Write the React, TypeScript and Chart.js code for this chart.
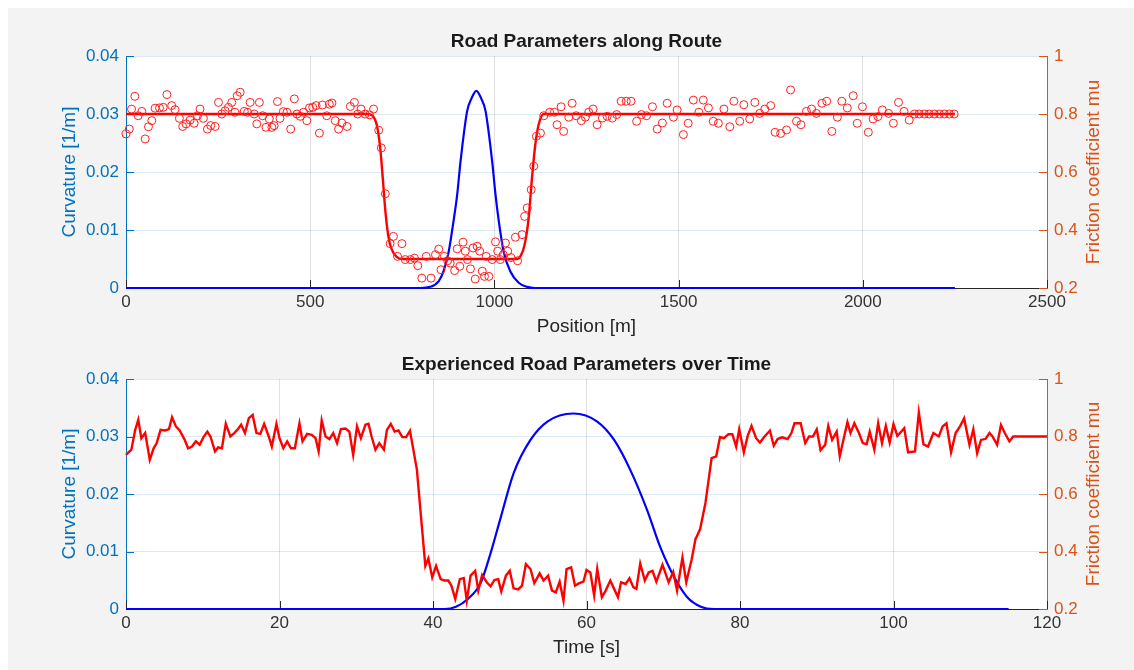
import { useEffect, useRef } from 'react';
import { Chart, registerables } from 'chart.js';

Chart.register(...registerables);

const FONT = '"Liberation Sans", Arial, Helvetica, sans-serif';
const AXIS_BLUE = '#0072bd';
const AXIS_ORANGE = '#d95319';
const AXIS_DARK = '#262626';

// ---- Road parameters along the route (position in m) ----
// Measured friction samples
const ROUTE_SAMPLE_POS = [
  0, 9, 15, 24, 33, 43, 52, 61, 70, 79, 91, 101, 111, 124, 133, 145, 154, 163, 174, 185,
  194, 201, 210, 221, 230, 242, 251, 260, 269, 278, 287, 296, 302, 310, 321, 330, 337, 348, 355, 362,
  371, 380, 389, 396, 402, 411, 418, 427, 437, 447, 457, 464, 473, 482, 491, 498, 507, 516, 525, 533,
  545, 552, 559, 568, 577, 586, 600, 609, 620, 629, 638, 649, 661, 672,
  686, 693, 704, 717, 726, 737, 749, 758, 772, 783, 792, 803, 815, 828, 840, 849, 855, 864, 873, 880,
  892, 899, 906, 915, 921, 927, 935, 942, 948, 953, 960, 967, 973, 978, 985, 994, 1003, 1009, 1016, 1024,
  1030, 1036, 1045, 1057, 1063, 1075, 1082, 1089, 1100, 1107, 1114, 1125,
  1134, 1150, 1163, 1170, 1181, 1188, 1202, 1211, 1222, 1236, 1247, 1256, 1268, 1279, 1293, 1306, 1320, 1332,
  1344, 1358, 1371, 1386, 1399, 1413, 1429, 1442, 1456, 1469, 1486, 1496, 1513, 1526, 1540, 1555, 1567, 1581,
  1594, 1608, 1623, 1639, 1650, 1666, 1677, 1693, 1707, 1720, 1734, 1750, 1762, 1777, 1793, 1804, 1820, 1832,
  1847, 1861, 1874, 1889, 1902, 1916, 1931, 1943, 1958, 1974, 1985, 1999, 2015, 2028, 2041, 2053, 2070, 2083,
  2097, 2112, 2126, 2140, 2153, 2167, 2180, 2194, 2208, 2221, 2235, 2248,
];
const ROUTE_SAMPLE_MU = [
  0.731, 0.748, 0.817, 0.861, 0.794, 0.809, 0.714, 0.756, 0.777, 0.82, 0.821, 0.823, 0.867, 0.829, 0.815, 0.785, 0.757, 0.766, 0.779, 0.768,
  0.794, 0.817, 0.785, 0.748, 0.76, 0.757, 0.84, 0.8, 0.811, 0.823, 0.84, 0.806, 0.863, 0.875, 0.809, 0.806, 0.84, 0.8, 0.766, 0.84,
  0.794, 0.754, 0.783, 0.754, 0.76, 0.843, 0.785, 0.808, 0.806, 0.748, 0.852, 0.8, 0.792, 0.806, 0.777, 0.821, 0.823, 0.829, 0.734, 0.831,
  0.794, 0.834, 0.838, 0.777, 0.748, 0.769, 0.757, 0.826, 0.84, 0.8, 0.817, 0.8, 0.797, 0.817,
  0.744, 0.683, 0.525, 0.353, 0.378, 0.309, 0.353, 0.298, 0.298, 0.303, 0.277, 0.234, 0.309, 0.234, 0.315, 0.334, 0.263, 0.309, 0.294, 0.286,
  0.26, 0.335, 0.275, 0.358, 0.327, 0.298, 0.266, 0.338, 0.231, 0.344, 0.327, 0.258, 0.24, 0.309, 0.24, 0.298, 0.359, 0.327, 0.298, 0.315,
  0.355, 0.327, 0.305, 0.375, 0.294, 0.384, 0.447, 0.476, 0.539, 0.62, 0.723, 0.734,
  0.794, 0.806, 0.806, 0.763, 0.825, 0.74, 0.789, 0.837, 0.794, 0.777, 0.789, 0.806, 0.817, 0.763, 0.786, 0.792, 0.786, 0.798,
  0.844, 0.844, 0.844, 0.775, 0.798, 0.794, 0.825, 0.748, 0.769, 0.837, 0.789, 0.814, 0.729, 0.768, 0.848, 0.806, 0.848, 0.821,
  0.775, 0.768, 0.817, 0.756, 0.844, 0.775, 0.832, 0.783, 0.84, 0.802, 0.817, 0.829, 0.737, 0.733, 0.745, 0.883, 0.775, 0.763,
  0.809, 0.817, 0.802, 0.837, 0.844, 0.74, 0.789, 0.844, 0.821, 0.863, 0.768, 0.825, 0.737, 0.783, 0.791, 0.814, 0.802, 0.768,
  0.84, 0.809, 0.779, 0.8, 0.8, 0.8, 0.8, 0.8, 0.8, 0.8, 0.8, 0.8,
];

// Friction model of the road
const ROUTE_MU_POS = [0, 655, 668, 681, 690, 697, 704, 713, 726, 754, 1060, 1071, 1082, 1093, 1102, 1111, 1120, 1134, 2250];
const ROUTE_MU = [0.8, 0.8, 0.795, 0.76, 0.683, 0.579, 0.466, 0.372, 0.321, 0.3, 0.3, 0.31, 0.349, 0.441, 0.579, 0.694, 0.763, 0.8, 0.8];

// Curvature of the road
const ROUTE_CURV_POS = [0, 800, 826, 849, 862, 876, 889, 899, 908, 926, 938, 951, 964, 976, 994, 1003, 1012, 1025, 1043, 1066, 1089, 1110, 2250];
const ROUTE_CURV = [0, 0, 0.0002, 0.0012, 0.0029, 0.0063, 0.0115, 0.0161, 0.0218, 0.0305, 0.0327, 0.034, 0.0327, 0.0305, 0.0218, 0.0161, 0.0115, 0.0063, 0.0029, 0.0009, 0.0002, 0, 0];

// ---- Road parameters experienced over time (s) ----
const TIME_MU_T = [
  0, 0.7, 1.2, 1.6, 2.0, 2.5, 3.1, 3.6, 4.0, 4.5, 5.1, 5.6, 6.0, 6.5, 7.0, 7.6, 8.1, 8.6, 9.1, 9.6,
  10.1, 10.6, 11.0, 11.6, 12.0, 12.5, 13.0, 13.6, 14.1, 14.5, 15.0, 15.5, 16.0, 16.5, 17.0, 17.5, 18.0, 18.6, 19.0, 19.6,
  20.0, 20.5, 21.0, 21.5, 22.0, 22.6, 23.0, 23.6, 24.2, 24.7, 25.1, 25.5, 26.0, 26.5, 27.0, 27.5, 28.0, 28.6, 29.1, 29.6,
  30.1, 30.6, 31.2, 31.6, 32.0, 32.5, 33.0, 33.6, 34.0, 34.5, 35.0, 35.5, 36.0, 36.5, 37.0, 37.9,
  39.0, 39.4, 39.9, 40.4, 41.0, 41.5, 42.0, 42.4, 42.9, 43.5, 44.0, 44.4, 44.9, 45.5, 45.9, 46.4, 47.0, 47.5, 48.0, 48.5,
  48.9, 49.5, 50.0, 50.5, 51.1, 51.6, 52.1, 52.7, 53.2, 53.9, 54.4, 55.0, 55.5, 56.0, 56.5, 57.0, 57.4, 58.0, 58.5, 59.0,
  59.6, 60.0, 60.5, 61.0, 61.4, 62.0, 62.5, 63.1, 63.6, 64.1, 64.5, 65.1, 65.6, 66.1, 66.5, 67.0, 67.6, 68.1, 68.6, 69.1,
  69.9, 70.7, 71.3, 71.8, 72.5, 73.0, 73.7, 74.2, 74.8, 75.5, 76.3, 76.9, 77.4, 77.9, 78.5, 79.0, 79.5, 79.9, 80.5, 81.0,
  81.5, 82.1, 82.6, 83.2, 83.9, 84.4, 84.9, 85.5, 86.2, 86.7, 87.1, 87.9, 88.5, 89.0, 89.5, 90.0, 90.5, 91.1, 91.5, 92.0,
  92.6, 93.0, 93.5, 94.0, 94.4, 94.9, 95.5, 96.0, 96.5, 96.9, 97.5, 98.0, 98.5, 99.0, 99.5, 100.0, 100.5, 101.4, 101.9, 102.8,
  103.3, 103.9, 104.5, 105.2, 105.9, 106.4, 106.9, 107.5, 108.1, 108.7, 109.2, 109.9, 110.4, 110.9, 111.4, 112.0, 112.5, 112.9, 113.5, 114.0,
  114.5, 115.1, 115.6, 120,
];
const TIME_MU = [
  0.736, 0.754, 0.823, 0.858, 0.794, 0.812, 0.719, 0.759, 0.777, 0.823, 0.821, 0.826, 0.867, 0.835, 0.821, 0.791, 0.759, 0.765, 0.783, 0.771,
  0.798, 0.817, 0.8, 0.748, 0.762, 0.759, 0.844, 0.8, 0.812, 0.823, 0.841, 0.812, 0.864, 0.875, 0.812, 0.809, 0.844, 0.8, 0.765, 0.844,
  0.794, 0.759, 0.783, 0.759, 0.759, 0.846, 0.783, 0.809, 0.806, 0.794, 0.748, 0.856, 0.8, 0.791, 0.812, 0.777, 0.826, 0.828, 0.817, 0.736,
  0.835, 0.794, 0.841, 0.844, 0.8, 0.754, 0.777, 0.754, 0.823, 0.844, 0.817, 0.821, 0.798, 0.798, 0.82, 0.685,
  0.35, 0.376, 0.31, 0.35, 0.304, 0.299, 0.299, 0.281, 0.235, 0.304, 0.308, 0.229, 0.316, 0.333, 0.264, 0.318, 0.293, 0.279, 0.301, 0.304,
  0.261, 0.316, 0.333, 0.272, 0.268, 0.281, 0.356, 0.339, 0.29, 0.324, 0.299, 0.316, 0.264, 0.258, 0.295, 0.229, 0.339, 0.345, 0.281, 0.289,
  0.295, 0.336, 0.327, 0.247, 0.339, 0.241, 0.264, 0.299, 0.27, 0.241, 0.293, 0.287, 0.307, 0.276, 0.27, 0.358, 0.299, 0.327, 0.333, 0.295,
  0.354, 0.293, 0.329, 0.264, 0.379, 0.293, 0.372, 0.443, 0.477, 0.569, 0.725, 0.731, 0.798, 0.794, 0.808, 0.808, 0.765, 0.825, 0.745, 0.802,
  0.837, 0.794, 0.779, 0.8, 0.82, 0.768, 0.791, 0.797, 0.791, 0.812, 0.846, 0.846, 0.777, 0.8, 0.8, 0.825, 0.752, 0.771, 0.837, 0.788,
  0.817, 0.731, 0.791, 0.85, 0.812, 0.846, 0.812, 0.777, 0.773, 0.817, 0.754, 0.846, 0.777, 0.837, 0.779, 0.843, 0.802, 0.829, 0.745, 0.748,
  0.884, 0.773, 0.765, 0.812, 0.8, 0.835, 0.846, 0.745, 0.812, 0.837, 0.863, 0.771, 0.825, 0.742, 0.788, 0.792, 0.812, 0.8, 0.771, 0.84,
  0.812, 0.783, 0.8, 0.8,
];

const TIME_CURV_T = [0, 41.5, 43.0, 44.5, 46.2, 47.5, 48.8, 50.5, 52.7, 54.9, 58.3, 61.4, 63.6, 65.7, 67.9, 69.6, 71.4, 73.1, 74.9, 76.6, 115];
const TIME_CURV = [0, 0, 0.0004, 0.0017, 0.0045, 0.0097, 0.0158, 0.0236, 0.0294, 0.0326, 0.034, 0.0326, 0.0294, 0.0242, 0.0172, 0.0108, 0.0056, 0.0021, 0.0004, 0, 0];

// ---- Axis ticks ----
const POS_TICKS = [0, 500, 1000, 1500, 2000, 2500];
const POS_TICK_LABELS = ['0', '500', '1000', '1500', '2000', '2500'];
const TIME_TICKS = [0, 20, 40, 60, 80, 100, 120];
const TIME_TICK_LABELS = ['0', '20', '40', '60', '80', '100', '120'];
const CURV_TICKS = [0, 0.01, 0.02, 0.03, 0.04];
const CURV_TICK_LABELS = ['0', '0.01', '0.02', '0.03', '0.04'];
const MU_TICKS = [0.2, 0.4, 0.6, 0.8, 1];
const MU_TICK_LABELS = ['0.2', '0.4', '0.6', '0.8', '1'];

const CANVAS_W = 1126;
const LEFT_W = 118;
const RIGHT_W = 87;
const TICK_LEN = 8;

const toPoints = (xs: number[], ys: number[]) => xs.map((x, i) => ({ x, y: ys[i] }));

// Inward tick marks, white plot box, titles and axis labels
const axesDecor = {
  id: 'axesDecor',
  beforeDraw(chart: any) {
    const { ctx, chartArea: a } = chart;
    ctx.save();
    ctx.fillStyle = '#ffffff';
    ctx.fillRect(a.left, a.top, a.right - a.left, a.bottom - a.top);
    ctx.restore();
  },
  beforeDatasetsDraw(chart: any) {
    const { ctx, chartArea: a, scales } = chart;
    ctx.save();
    ctx.lineWidth = 1;
    ctx.strokeStyle = AXIS_DARK;
    scales.x.ticks.forEach((t: any) => {
      const px = Math.round(scales.x.getPixelForValue(t.value)) + 0.5;
      ctx.beginPath();
      ctx.moveTo(px, a.bottom);
      ctx.lineTo(px, a.bottom - TICK_LEN);
      ctx.stroke();
    });
    ctx.strokeStyle = AXIS_BLUE;
    scales.y.ticks.forEach((t: any) => {
      const py = Math.round(scales.y.getPixelForValue(t.value)) + 0.5;
      ctx.beginPath();
      ctx.moveTo(a.left, py);
      ctx.lineTo(a.left + TICK_LEN, py);
      ctx.stroke();
    });
    ctx.strokeStyle = AXIS_ORANGE;
    scales.y1.ticks.forEach((t: any) => {
      const py = Math.round(scales.y1.getPixelForValue(t.value)) + 0.5;
      ctx.beginPath();
      ctx.moveTo(a.right, py);
      ctx.lineTo(a.right - TICK_LEN, py);
      ctx.stroke();
    });
    ctx.restore();
  },
  afterDraw(chart: any, _args: any, opts: any) {
    const { ctx, chartArea: a } = chart;
    const midY = (a.top + a.bottom) / 2;
    const midX = (a.left + a.right) / 2;
    ctx.save();
    ctx.textAlign = 'center';
    ctx.textBaseline = 'middle';
    ctx.font = `19px ${FONT}`;

    ctx.save();
    ctx.translate(a.left - 56, midY);
    ctx.rotate(-Math.PI / 2);
    ctx.fillStyle = AXIS_BLUE;
    ctx.fillText(opts.yTitle, 0, 0);
    ctx.restore();

    ctx.save();
    ctx.translate(a.right + 47, midY);
    ctx.rotate(-Math.PI / 2);
    ctx.fillStyle = AXIS_ORANGE;
    ctx.fillText(opts.y1Title, 0, 0);
    ctx.restore();

    ctx.fillStyle = AXIS_DARK;
    ctx.fillText(opts.xTitle, midX, a.bottom + 38.5);

    ctx.font = `bold 19px ${FONT}`;
    ctx.fillStyle = '#1a1a1a';
    ctx.fillText(opts.title, midX, opts.titleY);
    ctx.restore();
  },
};

type PanelSpec = {
  title: string;
  titleY: number;
  xTitle: string;
  xMax: number;
  xTicks: number[];
  xTickLabels: string[];
  padTop: number;
  plotBottom: number;
  height: number;
  datasets: any[];
};

function buildConfig(spec: PanelSpec): any {
  const tickFont = { family: FONT, size: 17 };
  return {
    type: 'scatter',
    data: { datasets: spec.datasets },
    options: {
      animation: false,
      responsive: false,
      maintainAspectRatio: false,
      events: [],
      layout: { padding: { top: spec.padTop, left: 0, right: 0, bottom: 0 } },
      plugins: {
        legend: { display: false },
        tooltip: { enabled: false },
        title: { display: false },
        axesDecor: {
          title: spec.title,
          titleY: spec.titleY,
          xTitle: spec.xTitle,
          yTitle: 'Curvature [1/m]',
          y1Title: 'Friction coefficient mu',
        },
      },
      scales: {
        x: {
          type: 'linear',
          position: 'bottom',
          min: 0,
          max: spec.xMax,
          afterBuildTicks: (s: any) => { s.ticks = spec.xTicks.map((v) => ({ value: v })); },
          afterFit: (s: any) => { s.height = spec.height - spec.plotBottom; },
          ticks: {
            color: '#333333',
            font: tickFont,
            padding: 4,
            maxRotation: 0,
            autoSkip: false,
            callback: (_v: any, i: number) => spec.xTickLabels[i],
          },
          grid: { color: 'rgba(38,38,38,0.15)', drawTicks: false, lineWidth: 1 },
          border: { color: AXIS_DARK, width: 1 },
        },
        y: {
          type: 'linear',
          position: 'left',
          min: 0,
          max: 0.04,
          afterBuildTicks: (s: any) => { s.ticks = CURV_TICKS.map((v) => ({ value: v })); },
          afterFit: (s: any) => { s.width = LEFT_W; },
          ticks: {
            color: AXIS_BLUE,
            font: tickFont,
            padding: 7,
            autoSkip: false,
            callback: (_v: any, i: number) => CURV_TICK_LABELS[i],
          },
          grid: { color: 'rgba(0,114,189,0.15)', drawTicks: false, lineWidth: 1 },
          border: { color: AXIS_BLUE, width: 1 },
        },
        y1: {
          type: 'linear',
          position: 'right',
          min: 0.2,
          max: 1,
          afterBuildTicks: (s: any) => { s.ticks = MU_TICKS.map((v) => ({ value: v })); },
          afterFit: (s: any) => { s.width = RIGHT_W; },
          ticks: {
            color: AXIS_ORANGE,
            font: tickFont,
            padding: 7,
            autoSkip: false,
            callback: (_v: any, i: number) => MU_TICK_LABELS[i],
          },
          grid: { drawOnChartArea: false, drawTicks: false },
          border: { color: AXIS_ORANGE, width: 1 },
        },
      },
    },
    plugins: [axesDecor],
  };
}

const routeSpec: PanelSpec = {
  title: 'Road Parameters along Route',
  titleY: 34,
  xTitle: 'Position [m]',
  xMax: 2500,
  xTicks: POS_TICKS,
  xTickLabels: POS_TICK_LABELS,
  padTop: 48,
  plotBottom: 280,
  height: 335,
  datasets: [
    {
      label: 'Measured friction',
      yAxisID: 'y1',
      data: toPoints(ROUTE_SAMPLE_POS, ROUTE_SAMPLE_MU),
      showLine: false,
      pointStyle: 'circle',
      pointRadius: 4,
      pointBorderWidth: 1,
      pointBorderColor: '#ff2020',
      pointBackgroundColor: 'rgba(0,0,0,0)',
      clip: 6,
      order: 0,
    },
    {
      label: 'Friction',
      yAxisID: 'y1',
      data: toPoints(ROUTE_MU_POS, ROUTE_MU),
      showLine: true,
      borderColor: '#ff0000',
      borderWidth: 2.4,
      pointRadius: 0,
      cubicInterpolationMode: 'monotone',
      clip: 3,
      order: 1,
    },
    {
      label: 'Curvature',
      yAxisID: 'y',
      data: toPoints(ROUTE_CURV_POS, ROUTE_CURV),
      showLine: true,
      borderColor: '#0000ff',
      borderWidth: 2.2,
      pointRadius: 0,
      cubicInterpolationMode: 'monotone',
      clip: 3,
      order: 2,
    },
  ],
};

const timeSpec: PanelSpec = {
  title: 'Experienced Road Parameters over Time',
  titleY: 21.5,
  xTitle: 'Time [s]',
  xMax: 120,
  xTicks: TIME_TICKS,
  xTickLabels: TIME_TICK_LABELS,
  padTop: 36,
  plotBottom: 266,
  height: 327,
  datasets: [
    {
      label: 'Friction',
      yAxisID: 'y1',
      data: toPoints(TIME_MU_T, TIME_MU),
      showLine: true,
      borderColor: '#ff0000',
      borderWidth: 2.4,
      pointRadius: 0,
      tension: 0,
      clip: 3,
      order: 0,
    },
    {
      label: 'Curvature',
      yAxisID: 'y',
      data: toPoints(TIME_CURV_T, TIME_CURV),
      showLine: true,
      borderColor: '#0000ff',
      borderWidth: 2.2,
      pointRadius: 0,
      cubicInterpolationMode: 'monotone',
      clip: 3,
      order: 1,
    },
  ],
};

function Panel({ spec, top }: { spec: PanelSpec; top: number }) {
  const ref = useRef<HTMLCanvasElement>(null);
  useEffect(() => {
    const chart = new Chart(ref.current as HTMLCanvasElement, buildConfig(spec));
    return () => chart.destroy();
  }, [spec]);
  return (
    <canvas
      ref={ref}
      width={CANVAS_W}
      height={spec.height}
      style={{ position: 'absolute', left: 0, top, width: CANVAS_W, height: spec.height, display: 'block' }}
    />
  );
}

export default function App() {
  return (
    <div
      style={{
        position: 'fixed',
        left: 8,
        top: 8,
        right: 0,
        bottom: 0,
        background: '#f3f3f3',
        overflow: 'hidden',
      }}
    >
      <Panel spec={routeSpec} top={0} />
      <Panel spec={timeSpec} top={335} />
    </div>
  );
}
